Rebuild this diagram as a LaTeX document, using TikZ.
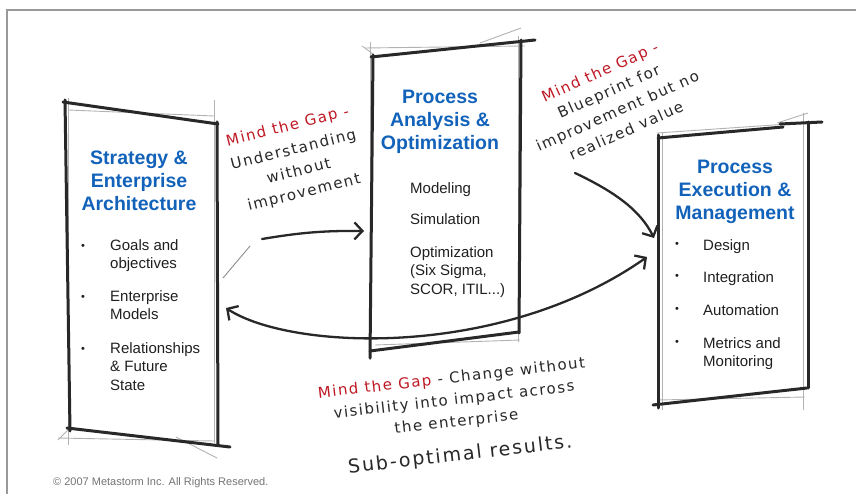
\documentclass[tikz,border=0pt]{standalone}
\usepackage{fontspec}
\setmainfont{Liberation Sans}
\newfontfamily\handfont[LetterSpace=10]{DejaVu Sans}
\usepackage{tikz}
\usetikzlibrary{arrows.meta}
\usetikzlibrary{positioning}
\definecolor{ink}{RGB}{40,40,40}
\definecolor{titleblue}{RGB}{18,98,186}
\definecolor{gapred}{RGB}{190,24,36}
\tikzstyle{pen} = [draw=ink, line width=3pt, line cap=round]
\tikzstyle{guide} = [draw=black!30, line width=0.9pt]
\tikzstyle{line} = [draw=ink, line width=2.3pt, line cap=round, -{Straight Barb[length=8pt,width=17pt]}]

\begin{document}
\begin{tikzpicture}[x=1pt, y=-1pt,
				title/.style = {font=\bfseries\fontsize{19.5}{23}\selectfont,
					text=titleblue, align=center},
				item/.style = {font=\fontsize{15}{18.5}\selectfont, text=black!88,
					align=left, anchor=north west, inner sep=0pt},
				dot/.style = {font=\fontsize{11}{11}\selectfont, text=black!88, inner sep=0pt},
				hand/.style = {font=\handfont\fontsize{15}{22}\selectfont, text=ink,
					inner sep=0pt, align=center}]
				
				\useasboundingbox (0,0) rectangle (856,494);
				
				% Page frame
				\draw[black!40, line width=1.6pt] (7,494) -- (7,10) -- (856,10);
				
				% Box A
				\draw[guide] (68,98) -- (68,445);
				\draw[guide] (214,100) -- (214,443);
				\draw[guide] (68,110) -- (214,116);
				\draw[guide] (58,438) -- (214,441);
				\draw[guide] (58,440) -- (70,428);
				\draw[guide] (176,437) -- (217,458);
				\draw[pen] (63,102) -- (218,124);
				\draw[pen] (65,100) -- (70,431);
				\draw[pen] (217,122) -- (218,445);
				\draw[pen] (67,428) -- (230,447);
				
				\node[title] (saTitle) at (139,181) {Strategy \&\\Enterprise\\Architecture};
				\node[dot] (saDot1) at (83,247) {\textbullet};
				\node[dot] (saDot2) at (83,298) {\textbullet};
				\node[dot] (saDot3) at (83,350) {\textbullet};
				\node[item] (saGoals) at (110,239) {Goals and\\objectives};
				\node[item] (saModels) at (110,290) {Enterprise\\Models};
				\node[item] (saState) at (110,342) {Relationships\\\& Future\\State};
				
				% Box B
				\draw[guide] (370,42) -- (370,360);
				\draw[guide] (518,36) -- (518,342);
				\draw[guide] (365,48) -- (525,46);
				\draw[guide] (480,43) -- (521,28);
				\draw[guide] (362,46) -- (373,54);
				\draw[guide] (375,345) -- (520,340);
				\draw[pen] (371,57) -- (535,40);
				\draw[pen] (373,55) -- (370,358);
				\draw[pen] (521,40) -- (519,333);
				\draw[pen] (370,351) -- (519,332);
				
				\node[title] (paTitle) at (440,122) {Process\\Analysis \&\\Optimization};
				\node[item] (paModel) at (410,182) {Modeling};
				\node[item] (paSim) at (410,213) {Simulation};
				\node[item] (paOpt) at (410,246) {Optimization\\(Six Sigma,\\SCOR, ITIL...)};
				
				% Box C
				\draw[guide] (657,133) -- (803,123);
				\draw[guide] (777,123) -- (808,113);
				\draw[guide] (803,113) -- (803,410);
				\draw[guide] (662,132) -- (662,410);
				\draw[guide] (657,400) -- (805,397);
				\draw[pen] (658,138) -- (783,127);
				\draw[pen] (780,124) -- (822,122);
				\draw[pen] (808,122) -- (808,388);
				\draw[pen] (658,135) -- (658,408);
				\draw[pen] (653,405) -- (807,388);
				
				\node[title] (peTitle) at (735,192) {Process\\Execution \&\\Management};
				\node[dot] (peDot1) at (677,245) {\textbullet};
				\node[dot] (peDot2) at (677,277) {\textbullet};
				\node[dot] (peDot3) at (677,310) {\textbullet};
				\node[dot] (peDot4) at (677,343) {\textbullet};
				\node[item] (peDesign) at (703,239) {Design};
				\node[item] (peInteg) at (703,271) {Integration};
				\node[item] (peAuto) at (703,304) {Automation};
				\node[item] (peMetrics) at (703,337) {Metrics and\\Monitoring};
				
				% Arrows between the boxes
				\coordinate (abStart) at (262,239);
				\coordinate (abEnd) at (364,231);
				\coordinate (bcStart) at (575,173);
				\coordinate (bcEnd) at (654,238);
				\coordinate (caStart) at (647,257);
				\coordinate (caEnd) at (226,308);
				\draw[guide, black!45] (223,278) -- (250,246);
				\draw[line] (abStart) to[bend left=5] (abEnd);
				\draw[line] (bcStart) .. controls (615,192) and (640,210) .. (bcEnd);
				\draw[line, {Straight Barb[length=8pt,width=17pt]}-{Straight Barb[length=8pt,width=17pt]}]
					(caStart) .. controls (500,360) and (290,350) .. (caEnd);
				
				% Notes
				\node[hand, rotate=14] (gapA) at (296,160)
					{\textcolor{gapred}{Mind the Gap -}\\[2pt]Understanding\\without\\improvement};
				\node[hand, rotate=24, font=\handfont\fontsize{15}{21.5}\selectfont] (gapB) at (613,101)
					{\textcolor{gapred}{Mind the Gap -}\\Blueprint for\\improvement but no\\realized value};
				\node[hand, rotate=6.5] (gapC) at (456,418)
					{\textcolor{gapred}{Mind the Gap} - Change without\\visibility into impact across\\the enterprise\\[12pt]
					{\fontsize{19}{21}\selectfont Sub-optimal results.}};
				
				% Footer
				\node[font=\fontsize{11}{12}\selectfont, text=black!55, anchor=west, inner sep=0pt] (copyright) at (53,483)
					{\textcopyright{} 2007 Metastorm Inc. All Rights Reserved.};
				
\end{tikzpicture}
\end{document}
